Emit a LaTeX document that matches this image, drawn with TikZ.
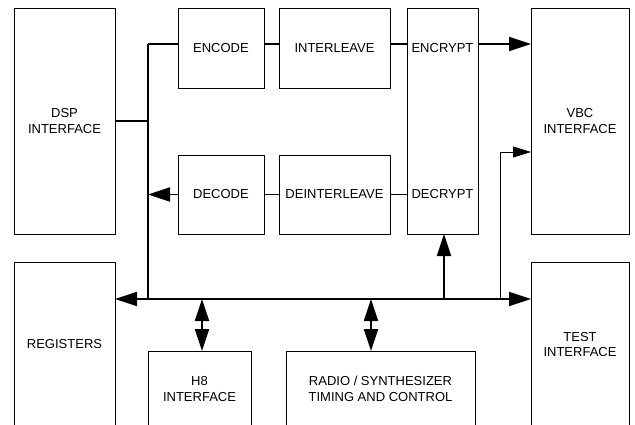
\documentclass[tikz,border=0pt]{standalone}
\usepackage{fontspec}
\setmainfont{Liberation Sans}
\usetikzlibrary{arrows.meta, positioning}

\begin{document}
\begin{tikzpicture}[x=1pt, y=-1pt,
  font=\fontsize{13}{15.5}\selectfont,
  box/.style={rectangle, draw=black, line width=0.8pt, fill=white, align=center,
    inner sep=2pt, outer sep=0pt},
  bus/.style={line width=1.8pt, black},
  arr/.style={bus, -{Triangle[length=22pt, width=14pt]}},
  dbl/.style={bus, {Triangle[length=22pt, width=14pt]}-{Triangle[length=22pt, width=14pt]}},
  tap/.style={line width=0.9pt, -{Triangle[length=18pt, width=11pt]}}]
  \clip (0,0) rectangle (635,425);
  % upper blocks
  \node[box, minimum width=101pt, minimum height=226pt] (dsp) at (64.5,121) {DSP\\INTERFACE};
  \node[box, minimum width=86pt, minimum height=80pt] (enc) at (221,48) {ENCODE};
  \node[box, minimum width=111pt, minimum height=80pt, right=15pt of enc] (ilv) {INTERLEAVE};
  \node[box, minimum width=86pt, minimum height=79pt] (dec) at (221,194.5) {DECODE};
  \node[box, minimum width=111pt, minimum height=79pt, right=15pt of dec] (dil) {DEINTERLEAVE};
  \node[box, minimum width=71pt, minimum height=226pt] (cry) at (442.5,121) {};
  \node (ecr) at (cry |- enc) {ENCRYPT};
  \node (dcr) at (cry |- dec) {DECRYPT};
  \node[box, minimum width=98pt, minimum height=226pt] (vbc) at (580,121) {VBC\\INTERFACE};
  % lower blocks
  \node[box, minimum width=101pt, minimum height=165pt] (reg) at (64.5,344.5) {REGISTERS};
  \node[box, minimum width=103pt, minimum height=76pt] (h8) at (199.5,389) {H8\\INTERFACE};
  \node[box, minimum width=189pt, minimum height=76pt] (rad) at (380.5,389) {RADIO / SYNTHESIZER\\TIMING AND CONTROL};
  \node[box, minimum width=98pt, minimum height=165pt] (tst) at (580,344.5) {TEST\\INTERFACE};
  % bus
  \coordinate (top) at (148,44);
  \coordinate (crn) at (148,299);
  \coordinate (htap) at (202,299);
  \coordinate (rtap) at (371,299);
  \coordinate (ctap) at (444,299);
  \coordinate (vtap) at (500,299);
  \coordinate (vin) at (531,152);
  \draw[bus] (top) -- (crn);
  \draw[bus] (dsp) -- (dsp -| top);
  \draw[bus] (top) -- (top -| enc.west);
  \draw[bus] (top -| enc.east) -- (top -| ilv.west);
  \draw[bus] (top -| ilv.east) -- (top -| cry.west);
  \draw[arr] (top -| cry.east) -- (top -| vbc.west);
  \draw[bus] (dcr -| cry.west) -- (dil.east);
  \draw[bus] (dil) -- (dec);
  \draw[arr] (dec) -- (dec -| crn);
  \draw[dbl] (crn -| reg.east) -- (crn -| tst.west);
  \draw[arr] (ctap) -- (ctap |- cry.south);
  \draw[tap] (vtap) |- (vin);
  \draw[dbl] (htap) -- (htap |- h8.north);
  \draw[dbl] (rtap) -- (rtap |- rad.north);
\end{tikzpicture}
\end{document}
